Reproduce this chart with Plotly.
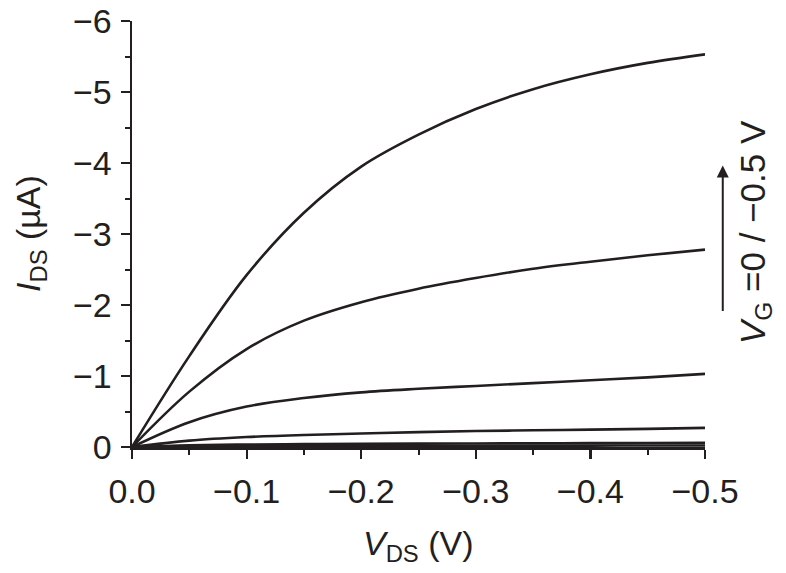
import plotly.graph_objects as go

# Drain-source voltage (V)
vds = [0, -0.05, -0.1, -0.15, -0.2, -0.25, -0.3, -0.35, -0.4, -0.45, -0.5]

# Drain current (uA) for each gate voltage
ids_vg_0p0 = [0, -0.008, -0.012, -0.014, -0.016, -0.017, -0.018, -0.019, -0.020, -0.021, -0.022]
ids_vg_0p1 = [0, -0.025, -0.035, -0.040, -0.045, -0.048, -0.050, -0.052, -0.054, -0.056, -0.058]
ids_vg_0p2 = [0, -0.09, -0.14, -0.17, -0.19, -0.21, -0.225, -0.235, -0.245, -0.255, -0.27]
ids_vg_0p3 = [0, -0.35, -0.57, -0.69, -0.77, -0.82, -0.86, -0.90, -0.94, -0.98, -1.03]
ids_vg_0p4 = [0, -0.78, -1.38, -1.78, -2.04, -2.23, -2.38, -2.51, -2.61, -2.70, -2.78]
ids_vg_0p5 = [0, -1.28, -2.42, -3.30, -3.95, -4.40, -4.76, -5.04, -5.25, -5.41, -5.53]

series = [
    ("VG = 0 V", ids_vg_0p0),
    ("VG = -0.1 V", ids_vg_0p1),
    ("VG = -0.2 V", ids_vg_0p2),
    ("VG = -0.3 V", ids_vg_0p3),
    ("VG = -0.4 V", ids_vg_0p4),
    ("VG = -0.5 V", ids_vg_0p5),
]

x_ticks = [0, -0.1, -0.2, -0.3, -0.4, -0.5]
y_ticks = [0, -1, -2, -3, -4, -5, -6]

INK = "#231f20"
FONT = "Liberation Sans, Arial, sans-serif"

fig = go.Figure()
for name, ys in series:
    fig.add_trace(go.Scatter(
        x=vds, y=ys, mode="lines", name=name,
        line=dict(color=INK, width=2.6, shape="spline", smoothing=1.0),
        cliponaxis=False,
    ))

axis_common = dict(
    showline=True, linecolor=INK, linewidth=2.5,
    ticks="outside", ticklen=9, tickwidth=2.2, tickcolor=INK,
    showgrid=False, zeroline=False, mirror=False, automargin=False,
    ticklabeloverflow="allow",
    tickfont=dict(family=FONT, size=34, color=INK),
)

fig.update_xaxes(
    range=[0, -0.5], tickvals=x_ticks, tickformat=".1f",
    minor=dict(ticks="outside", ticklen=5, tickwidth=2, tickcolor=INK, dtick=0.05, tick0=0),
    ticklabelstandoff=4,
    **axis_common,
)
fig.update_yaxes(
    range=[0, -6], tickvals=y_ticks,
    minor=dict(ticks="outside", ticklen=5, tickwidth=2, tickcolor=INK, dtick=0.5, tick0=0),
    ticklabelstandoff=2,
    **axis_common,
)

fig.add_annotation(
    text="<i>I</i><sub>DS</sub> (µA)", xref="paper", yref="paper",
    x=-0.178, y=0.5, xanchor="center", yanchor="middle", textangle=-90,
    showarrow=False, font=dict(family=FONT, size=34, color=INK),
)
fig.add_annotation(
    text="<i>V</i><sub>DS</sub> (V)", xref="paper", yref="paper",
    x=0.5, y=-0.231, xanchor="center", yanchor="middle",
    showarrow=False, font=dict(family=FONT, size=34, color=INK),
)
fig.add_annotation(
    text="<i>V</i><sub>G</sub> =0 / \u22120.5 V", xref="paper", yref="paper",
    x=1.087, y=0.504, xanchor="center", yanchor="middle", textangle=-90,
    showarrow=False, font=dict(family=FONT, size=35, color=INK),
)
fig.add_annotation(
    text="", xref="paper", yref="paper",
    x=1.031, y=0.661, ax=0, ay=147, axref="pixel", ayref="pixel",
    showarrow=True, arrowhead=2, arrowsize=1.2, arrowwidth=2, arrowcolor=INK,
)

fig.update_layout(
    width=786, height=573,
    margin=dict(l=132, r=81, t=21, b=126),
    paper_bgcolor="white", plot_bgcolor="white",
    showlegend=False,
    font=dict(family=FONT, color=INK),
)

fig.write_html(
    "out.html",
    config={"displayModeBar": False, "staticPlot": True},
    post_script="document.body.style.margin='0';",
)
